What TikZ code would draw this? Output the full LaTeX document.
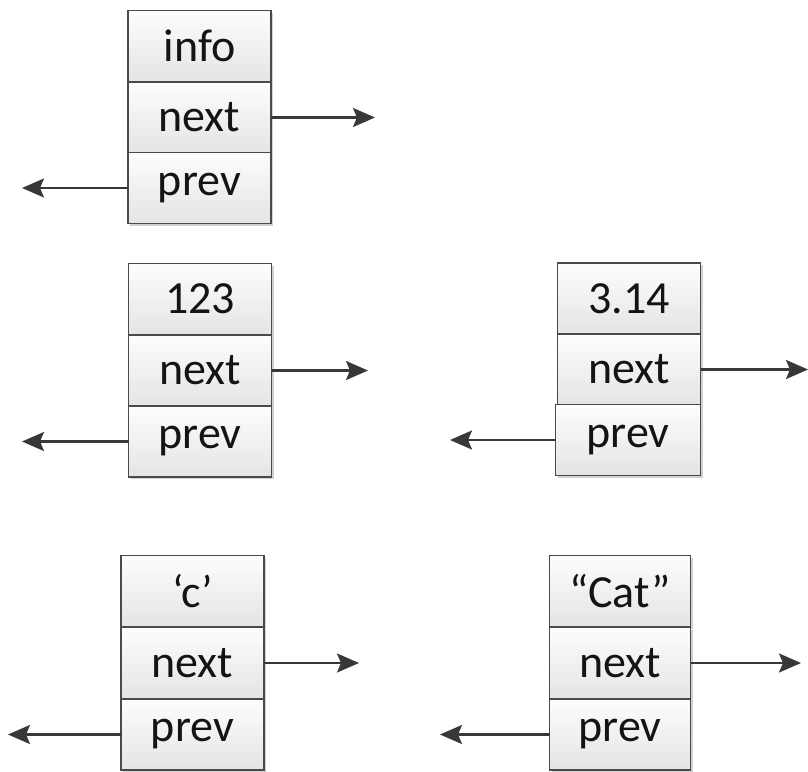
\documentclass[tikz,border=0pt]{standalone}
\usepackage{fontspec}
\setmainfont{Carlito}
\usetikzlibrary{arrows.meta,shadows}
\definecolor{cellline}{HTML}{4A4A4A}
\definecolor{celltop}{HTML}{FDFDFD}
\definecolor{cellbot}{HTML}{E4E4E4}
\definecolor{linkcol}{HTML}{383838}
\definecolor{txt}{HTML}{141414}
\tikzset{
  cell/.style={rectangle, draw=cellline, line width=1.8pt,
    top color=celltop, bottom color=cellbot,
    minimum width=143pt, minimum height=71pt, inner sep=0pt, outer sep=0pt,
    text=txt, font=\fontsize{46}{54}\selectfont,
    drop shadow={shadow xshift=2pt, shadow yshift=-2pt, opacity=0.18, fill=black}},
  link/.style={draw=linkcol, line width=2.2pt,
    -{Stealth[length=22pt, width=19pt, inset=4pt]}}
}
\begin{document}
\begin{tikzpicture}[x=1pt, y=-1pt]
  \useasboundingbox (0,0) rectangle (808,771);

  % generic node layout
  \node[cell] (infoA) at (199.5,46)  {info};
  \node[cell] (nextA) at (199.5,117.5) {next};
  \node[cell] (prevA) at (199.5,188) {prev};
  \coordinate (nextAend) at (375,117.5);
  \coordinate (prevAend) at (22,188);
  \draw[link] (nextA.east) -- (nextAend);
  \draw[link] (prevA.west) -- (prevAend);

  % integer node
  \node[cell] (infoB) at (200,299)   {123};
  \node[cell] (nextB) at (200,370.5) {next};
  \node[cell] (prevB) at (200,441.5) {prev};
  \coordinate (nextBend) at (368,370.5);
  \coordinate (prevBend) at (22,441.5);
  \draw[link] (nextB.east) -- (nextBend);
  \draw[link] (prevB.west) -- (prevBend);

  % float node
  \node[cell] (infoC) at (629,298.5) {3.14};
  \node[cell] (nextC) at (629,369.5) {next};
  \node[cell, minimum width=145pt] (prevC) at (628,440) {prev};
  \coordinate (nextCend) at (808,369.5);
  \coordinate (prevCend) at (450,440);
  \draw[link] (nextC.east) -- (nextCend);
  \draw[link] (prevC.west) -- (prevCend);

  % character node
  \node[cell] (infoD) at (192.5,591) {‘c’};
  \node[cell] (nextD) at (192.5,663) {next};
  \node[cell] (prevD) at (192.5,734.5) {prev};
  \coordinate (nextDend) at (359,663);
  \coordinate (prevDend) at (8,734.5);
  \draw[link] (nextD.east) -- (nextDend);
  \draw[link] (prevD.west) -- (prevDend);

  % string node
  \node[cell, minimum width=141pt] (infoE) at (620,591) {“Cat”};
  \node[cell, minimum width=141pt] (nextE) at (620,663) {next};
  \node[cell, minimum width=141pt] (prevE) at (620,734.5) {prev};
  \coordinate (nextEend) at (801,663);
  \coordinate (prevEend) at (440,734.5);
  \draw[link] (nextE.east) -- (nextEend);
  \draw[link] (prevE.west) -- (prevEend);
\end{tikzpicture}
\end{document}
